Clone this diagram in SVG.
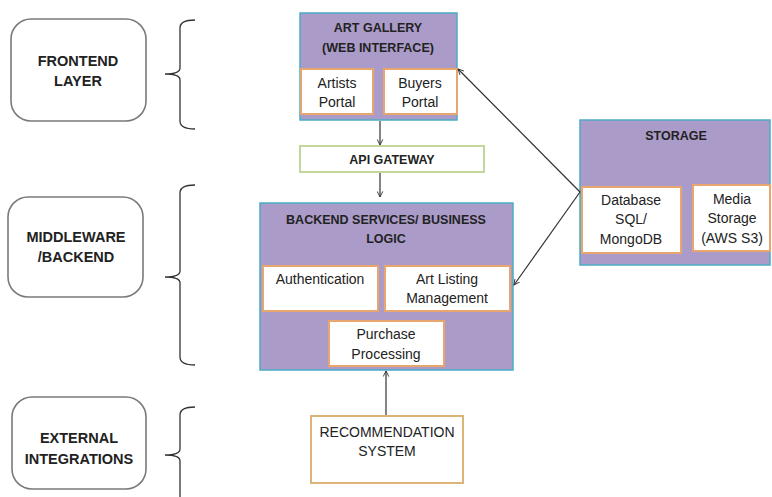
<svg xmlns="http://www.w3.org/2000/svg" width="772" height="497" viewBox="0 0 772 497">
<defs>
<marker id="ah" viewBox="0 0 10 10" refX="9" refY="5" markerWidth="7" markerHeight="7" orient="auto-start-reverse" markerUnits="userSpaceOnUse">
<path d="M1,1 L9,5 L1,9" fill="none" stroke="#333" stroke-width="1.3"/>
</marker>
<style>
.lbl{fill:#fff;stroke:#7a7a7a;stroke-width:1.6}
.grp{fill:#ab9bc9;stroke:#4bacc6;stroke-width:1.5}
.sub{fill:#fff;stroke:#e8a66e;stroke-width:2}
.api{fill:#fff;stroke:#c3d69b;stroke-width:2}
.rec{fill:#fff;stroke:#dcb47a;stroke-width:2}
.brace{fill:none;stroke:#333;stroke-width:1.3}
.conn{fill:none;stroke:#333;stroke-width:1.2}
text{font-family:"Liberation Sans",Arial,sans-serif;fill:#222;text-anchor:middle}
.h{font-weight:bold;font-size:14.5px}
.b{font-weight:bold;font-size:12.5px}
.r{font-size:14px}
</style>
</defs>
<rect width="772" height="497" fill="#fff"/>

<g id="frontend-label">
<rect class="lbl" x="11" y="19" width="135" height="102" rx="20"/>
<text class="h" x="78" y="66">FRONTEND</text>
<text class="h" x="78" y="86">LAYER</text>
</g>
<g id="middleware-label">
<rect class="lbl" x="8" y="197" width="135" height="100" rx="20"/>
<text class="h" x="76" y="242">MIDDLEWARE</text>
<text class="h" x="76" y="262">/BACKEND</text>
</g>
<g id="external-label">
<rect class="lbl" x="12" y="397" width="134" height="92" rx="20"/>
<text class="h" x="79" y="443">EXTERNAL</text>
<text class="h" x="79" y="464">INTEGRATIONS</text>
</g>

<g id="braces">
<path class="brace" d="M195,20 Q180,20 180,28 L180,68 Q180,74 165,74 Q180,74 180,80 L180,121 Q180,129 195,129"/>
<path class="brace" d="M195,185 Q180,185 180,193 L180,271 Q180,277 165,277 Q180,277 180,283 L180,357 Q180,365 195,365"/>
<path class="brace" d="M195,407 Q180,407 180,415 L180,449 Q180,455 165,455 Q180,455 180,461 L180,497"/>
</g>

<g id="art-gallery">
<rect class="grp" x="300" y="13" width="157" height="107"/>
<text class="b" x="378" y="32">ART GALLERY</text>
<text class="b" x="378" y="52">(WEB INTERFACE)</text>
<g id="artists-portal">
<rect class="sub" x="301" y="69" width="72" height="45"/>
<text class="r" x="337" y="88">Artists</text>
<text class="r" x="337" y="107">Portal</text>
</g>
<g id="buyers-portal">
<rect class="sub" x="384" y="69" width="73" height="45"/>
<text class="r" x="420" y="88">Buyers</text>
<text class="r" x="420" y="107">Portal</text>
</g>
</g>

<g id="api-gateway">
<rect class="api" x="300" y="146" width="184" height="26"/>
<text class="b" x="392" y="164">API GATEWAY</text>
</g>

<g id="backend">
<rect class="grp" x="260" y="203" width="253" height="167"/>
<text class="b" x="386" y="224">BACKEND SERVICES/ BUSINESS</text>
<text class="b" x="386" y="243">LOGIC</text>
<g id="authentication">
<rect class="sub" x="263" y="266" width="115" height="45"/>
<text class="r" x="320" y="284">Authentication</text>
</g>
<g id="art-listing">
<rect class="sub" x="385" y="266" width="125" height="45"/>
<text class="r" x="447" y="284">Art Listing</text>
<text class="r" x="447" y="303">Management</text>
</g>
<g id="purchase">
<rect class="sub" x="329" y="321" width="115" height="45"/>
<text class="r" x="386" y="339">Purchase</text>
<text class="r" x="386" y="359">Processing</text>
</g>
</g>

<g id="storage">
<rect class="grp" x="580" y="120" width="190" height="145"/>
<text class="b" x="676" y="140">STORAGE</text>
<g id="database">
<rect class="sub" x="582" y="187" width="99" height="66"/>
<text class="r" x="631" y="205">Database</text>
<text class="r" x="631" y="224">SQL/</text>
<text class="r" x="631" y="244">MongoDB</text>
</g>
<g id="media-storage">
<rect class="sub" x="693" y="185" width="77" height="66"/>
<text class="r" x="732" y="204">Media</text>
<text class="r" x="732" y="223">Storage</text>
<text class="r" x="732" y="243">(AWS S3)</text>
</g>
</g>

<g id="recommendation">
<rect class="rec" x="311" y="416" width="152" height="67"/>
<text class="r" x="387" y="437">RECOMMENDATION</text>
<text class="r" x="387" y="456">SYSTEM</text>
</g>

<g id="connectors">
<line class="conn" x1="380" y1="121" x2="380" y2="145" marker-end="url(#ah)"/>
<line class="conn" x1="380" y1="173" x2="380" y2="197" marker-end="url(#ah)"/>
<line class="conn" x1="386" y1="415" x2="386" y2="371" marker-end="url(#ah)"/>
<line class="conn" x1="580" y1="192" x2="458" y2="69" marker-end="url(#ah)"/>
<line class="conn" x1="580" y1="192" x2="514" y2="285" marker-end="url(#ah)"/>
</g>
</svg>
